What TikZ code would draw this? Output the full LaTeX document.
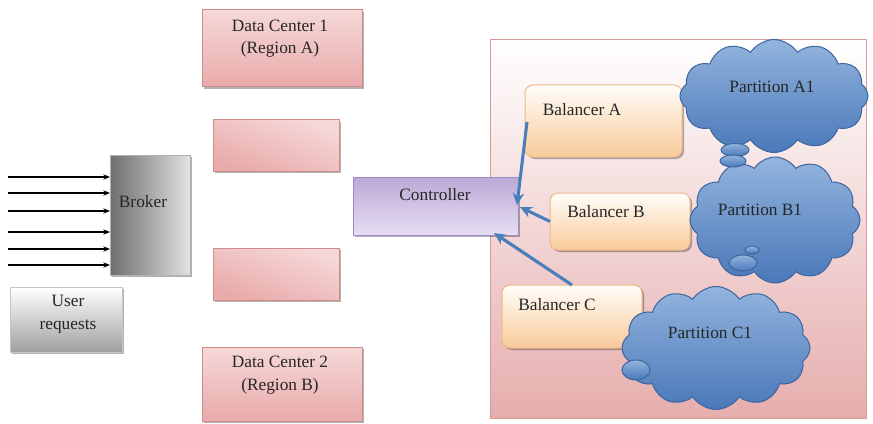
\documentclass[tikz,border=0pt]{standalone}
\usepackage{fontspec}
\setmainfont{Liberation Serif}
\usetikzlibrary{shapes.symbols,shapes.geometric,shadows,calc,arrows.meta}
\definecolor{dcline}{HTML}{CF8C8C}
\definecolor{dctop}{HTML}{F6D8D8}
\definecolor{dcbot}{HTML}{E9AAAA}
\definecolor{brkdark}{HTML}{6E6E6E}
\definecolor{brklight}{HTML}{E2E2E2}
\definecolor{usrbot}{HTML}{A0A0A0}
\definecolor{ctrtop}{HTML}{BCA9D7}
\definecolor{ctrbot}{HTML}{E6DEF1}
\definecolor{ctrline}{HTML}{9C89C6}
\definecolor{baltop}{HTML}{FFFDF9}
\definecolor{balbot}{HTML}{F9CB9A}
\definecolor{balline}{HTML}{EDB888}
\definecolor{conttop}{HTML}{FFFFFF}
\definecolor{contbot}{HTML}{E6ADAD}
\definecolor{contline}{HTML}{D69C9C}
\definecolor{cldtop}{HTML}{93B4DE}
\definecolor{cldbot}{HTML}{4A78B9}
\definecolor{cldline}{HTML}{3D659E}
\definecolor{arrblue}{HTML}{4A7EBB}
\begin{document}
\begin{tikzpicture}[x=0.75pt,y=-0.75pt,
  font=\fontsize{13}{17}\selectfont,
  sz/.style 2 args={minimum width=#1*0.75pt, minimum height=#2*0.75pt},
  base/.style={inner sep=0pt, outer sep=0pt, line width=0.75pt},
  shad/.style={drop shadow={shadow xshift=1.5pt, shadow yshift=-1.5pt, opacity=0.3, fill=black}},
  dcbox/.style={base, shad, draw=dcline, top color=dctop, bottom color=dcbot},
  emptybox/.style={base, shad, draw=dcline, top color=dcbot, bottom color=dctop, shading angle=160},
  brkbox/.style={base, shad, draw=gray!60, left color=brkdark, right color=brklight},
  usrbox/.style={base, shad, draw=gray!45, top color=white, bottom color=usrbot},
  ctrbox/.style={base, shad, draw=ctrline, top color=ctrtop, bottom color=ctrbot},
  balbox/.style={base, shad, draw=balline, top color=baltop, bottom color=balbot, rounded corners=6pt},
  contbox/.style={base, draw=contline, top color=conttop, bottom color=contbot},
  cloudst/.style={base, cloud, cloud puffs=12, cloud puff arc=115, cloud ignores aspect, draw=cldline, top color=cldtop, bottom color=cldbot},
  bubble/.style={base, ellipse, draw=cldline, top color=cldtop, bottom color=cldbot},
  txt/.style={inner sep=0pt, align=center, text=black!85},
  blk/.style={line width=0.9pt, -{Stealth[length=5pt,width=4pt]}},
  blu/.style={line width=2.3pt, draw=arrblue, -{Stealth[length=9pt,width=8.5pt]}}
]
\useasboundingbox (0,0) rectangle (873,424);

% container (behind everything on the right)
\node[contbox, sz={376}{378}] (cont) at (678,229) {};

% left side
\node[brkbox, sz={80}{120}] (broker) at (150,215) {};
\node[txt] (tbroker) at (143,202) {Broker};
\node[usrbox, sz={112}{65}] (user) at (66,319.5) {};
\node[txt] (tuser) at (68,314) {User\\requests};
\foreach \y [count=\i] in {177,193,211,232,249,265} {
  \coordinate (u\i) at (8,\y);
  \draw[blk] (u\i) -- (u\i -| broker.west);
}

% data centres
\node[dcbox, sz={160}{77}] (dc1) at (282,48.5) {};
\node[txt] (tdc1) at (280,38.5) {Data Center 1\\(Region A)};
\node[emptybox, sz={126}{51}] (e1) at (276,145.5) {};
\node[emptybox, sz={126}{52}] (e2) at (276,274) {};
\node[dcbox, sz={160}{74}] (dc2) at (282,384) {};
\node[txt] (tdc2) at (280,375) {Data Center 2\\(Region B)};

% controller
\node[ctrbox, sz={165}{58}] (ctrl) at (435.5,206) {};
\node[txt] (tctrl) at (435,195) {Controller};

% balancers
\node[balbox, sz={157}{72}] (ba) at (603.5,121) {};
\node[txt] (tba) at (582,110) {Balancer A};
\node[balbox, sz={140}{57}] (bb) at (620,221.5) {};
\node[txt] (tbb) at (606,212) {Balancer B};
\node[balbox, sz={140}{63}] (bc) at (572,316.5) {};
\node[txt] (tbc) at (557,305) {Balancer C};

% clouds
\node[cloudst, sz={188}{113}] (pa1) at (774,96) {};
\node[cloudst, sz={170}{126}] (pb1) at (775,220) {};
\node[cloudst, sz={188}{123}] (pc1) at (716,348) {};
\node[bubble, sz={28}{13}] (bub1) at (735,150) {};
\node[bubble, sz={26}{12}] (bub2) at (733,161) {};
\node[bubble, sz={14}{8}] (bub3) at (752,250) {};
\node[bubble, sz={28}{16}] (bub4) at (743,263) {};
\node[bubble, sz={28}{20}] (bub5) at (636,370) {};
\node[txt] (ta1) at (772,87) {Partition A1};
\node[txt] (tb1) at (760,210) {Partition B1};
\node[txt] (tc1) at (710,333) {Partition C1};

% blue arrows
\draw[blu] ($(ba.west)+(2,1)$) -- ($(ctrl.east)+(-1,-1)$);
\draw[blu] (bb.west) -- ($(ctrl.east)+(2,1)$);
\draw[blu] (bc.north) -- ($(ctrl.south east)+(-24,-2)$);
\end{tikzpicture}
\end{document}
